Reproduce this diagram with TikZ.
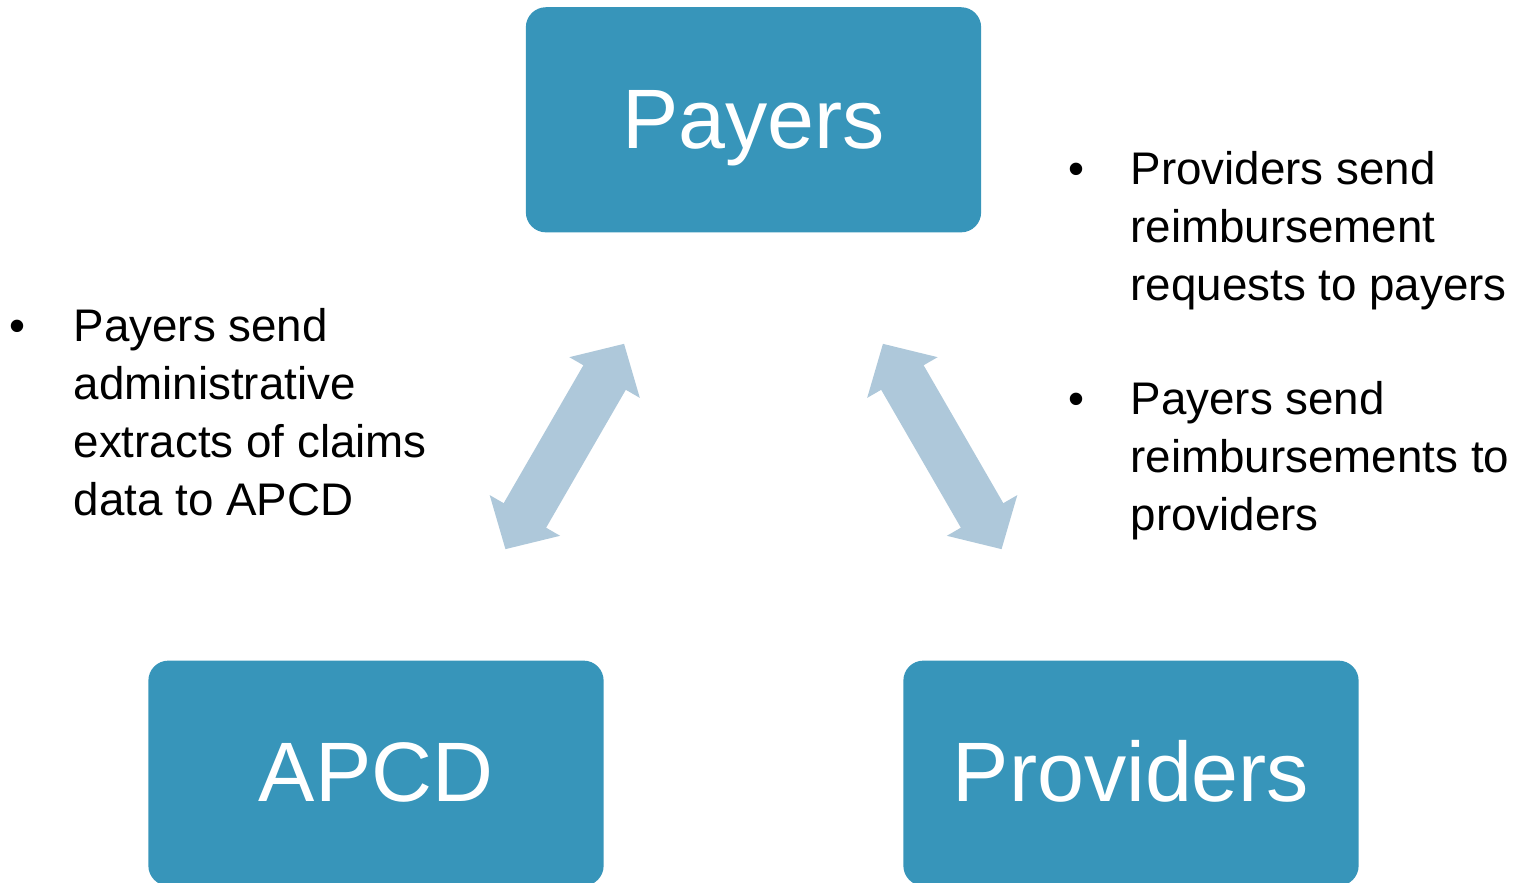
\documentclass[tikz,border=0pt]{standalone}
\usepackage{fontspec}
\setmainfont{Liberation Sans}
\usetikzlibrary{arrows.meta}
\definecolor{boxcolor}{HTML}{3795BA}
\definecolor{linkcolor}{HTML}{AEC8DA}

\begin{document}
\begin{tikzpicture}[x=0.01cm,y=-0.01cm,
  party/.style={fill=boxcolor,rounded corners=0.2cm,minimum width=4.55cm,minimum height=2.25cm,
    text=white,font=\fontsize{24}{28}\selectfont,text height=0.8cm,text depth=0.23cm},
  link/.style={linkcolor,line width=0.49cm,
    {Triangle[length=0.39cm,width=0.79cm]}-{Triangle[length=0.39cm,width=0.79cm]},
    shorten <=2.585cm,shorten >=2.585cm},
  note/.style={anchor=base west,inner sep=0pt,font=\fontsize{13}{16.4}\selectfont},
  dot/.style={anchor=base,inner sep=0pt,font=\fontsize{13}{16.4}\selectfont}]
  \useasboundingbox (0,0) rectangle (1520,883);
  % the three parties
  \foreach \n/\t/\x/\y in {payers/Payers/753.5/119.8, apcd/APCD/376/773.2, providers/Providers/1131/773.2}
    { \node[party] (\n) at (\x,\y) {\t}; }
  \draw[link] (apcd.center) -- (payers.center);
  \draw[link] (payers.center) -- (providers.center);
  % left notes
  \node[dot] (dotextracts) at (17.5,342) {\textbullet};
  \node[note] (extracts) at (73,342) {\begin{tabular}[t]{@{}l@{}}Payers send\\administrative\\extracts of claims\\data to APCD\end{tabular}};
  % right notes
  \node[dot] (dotrequests) at (1076,185) {\textbullet};
  \node[note] (requests) at (1130,185) {\begin{tabular}[t]{@{}l@{}}Providers send\\reimbursement\\requests to payers\end{tabular}};
  \node[dot] (dotreimb) at (1076,415) {\textbullet};
  \node[note] (reimb) at (1130,415) {\begin{tabular}[t]{@{}l@{}}Payers send\\reimbursements to\\providers\end{tabular}};
\end{tikzpicture}
\end{document}
